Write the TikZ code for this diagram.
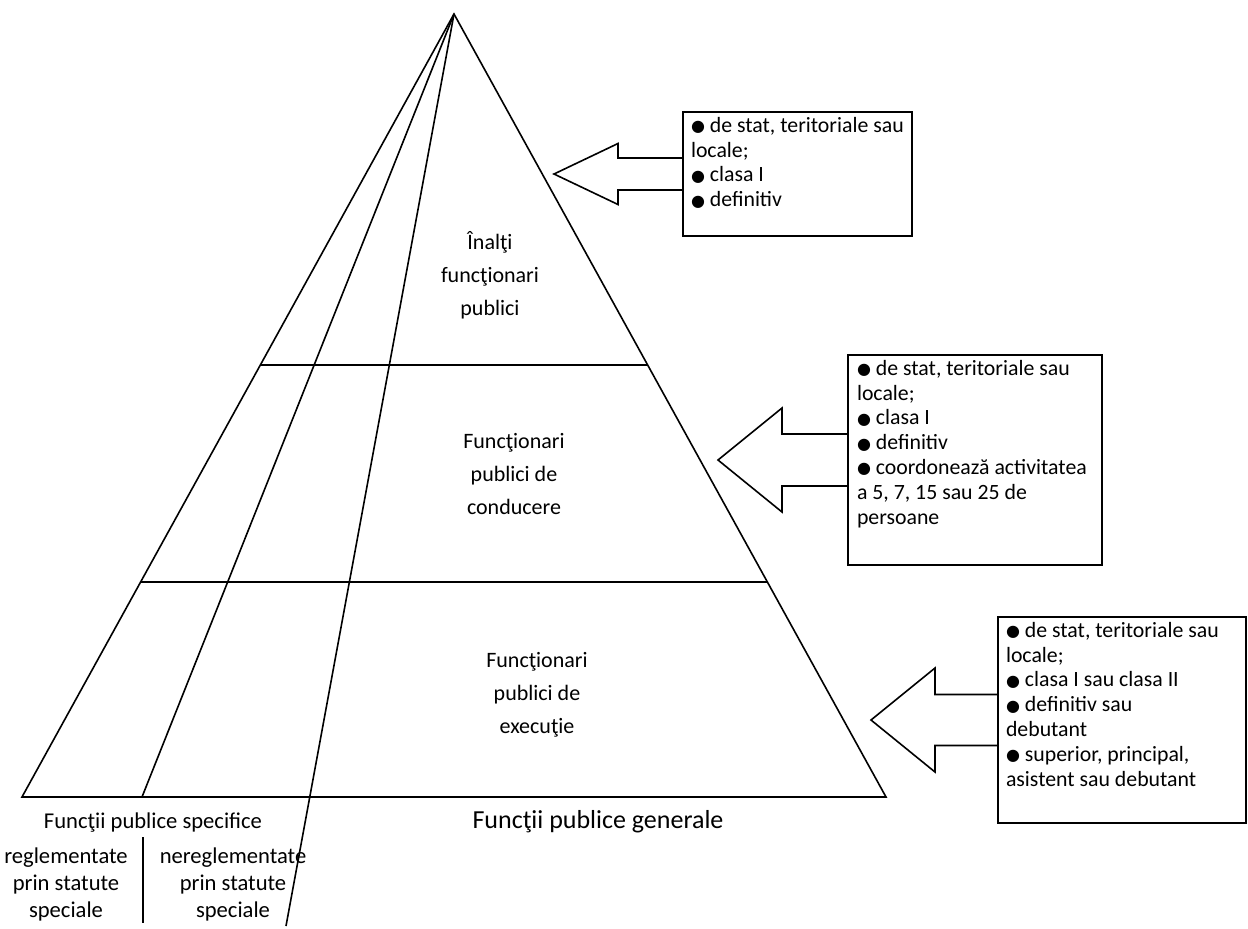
\documentclass[tikz,border=0pt]{standalone}
\usepackage{fontspec}
\setmainfont{Carlito}
\newfontfamily\symfont{DejaVu Sans}
\usetikzlibrary{calc}
% small filled bullet used in the lists
\newcommand{\bul}{\raisebox{0.4pt}{\symfont\fontsize{8}{8}\selectfont ●}}
\begin{document}
\begin{tikzpicture}[x=0.5pt,y=-0.5pt,
  line width=0.8pt, line join=miter,
  every node/.style={inner sep=0pt, outer sep=0pt},
  lbl/.style={align=center, font=\fontsize{11}{16.5}\selectfont},
  lowlbl/.style={align=center, font=\fontsize{11.3}{13.5}\selectfont},
  biglbl/.style={font=\fontsize{13}{15}\selectfont},
  infobox/.style={draw, anchor=north west},
  infotext/.style={anchor=north west, align=left, font=\fontsize{10.9}{12.45}\selectfont}
]
\useasboundingbox (0,0) rectangle (1248,928);

% pyramid outline
\coordinate (apex) at (454,14);
\coordinate (bl) at (22,797);
\coordinate (br) at (886,797);
\draw (bl) -- (apex) -- (br) -- cycle;

% level separators
\draw ($(apex)!0.44828!(bl)$) -- ($(apex)!0.44828!(br)$);
\draw ($(apex)!0.72542!(bl)$) -- ($(apex)!0.72542!(br)$);

% sector lines from the apex
\coordinate (s1) at (142,797);
\coordinate (s2) at (286,926);
\draw (apex) -- (s1);
\draw (apex) -- (s2);

% level labels
\node[lbl] (lvl1) at (490,275) {Înalţi\\funcţionari\\publici};
\node[lbl] (lvl2) at (514,474) {Funcţionari\\publici de\\conducere};
\node[lbl] (lvl3) at (537,695) {Funcţionari\\publici de\\execuţie};

% labels under the base
\node[lowlbl] (spec) at (153,823) {Funcţii publice specifice};
\node[lowlbl] (regl) at (66,884) {reglementate\\prin statute\\speciale};
\node[lowlbl] (nregl) at (233,884) {nereglementate\\prin statute\\speciale};
\coordinate (sepT) at (143,837);
\coordinate (sepB) at (143,923);
\draw (sepT) -- (sepB);
\node[biglbl] (gen) at (598,822) {Funcţii publice generale};

% information boxes
\node[infobox, minimum width=114.5pt, minimum height=62pt] (b1) at (683,112) {};
\node[infobox, minimum width=127pt, minimum height=105pt] (b2) at (848,355) {};
\node[infobox, minimum width=124pt, minimum height=103pt] (b3) at (998,617) {};

\node[infotext] (t1) at ([shift={(8,5)}]b1.north west)
  {\bul{} de stat, teritoriale sau\\locale;\\\bul{} clasa I\\\bul{} definitiv};
\node[infotext] (t2) at ([shift={(9,5)}]b2.north west)
  {\bul{} de stat, teritoriale sau\\locale;\\\bul{} clasa I\\\bul{} definitiv\\\bul{} coordonează activitatea\\a 5, 7, 15 sau 25 de\\persoane};
\node[infotext] (t3) at ([shift={(8,5)}]b3.north west)
  {\bul{} de stat, teritoriale sau\\locale;\\\bul{} clasa I sau clasa II\\\bul{} definitiv sau\\debutant\\\bul{} superior, principal,\\asistent sau debutant};

% block arrows pointing from the boxes to the pyramid
\draw ([shift={(0,-16)}]b1.west) -- ++(-65,0) -- ++(0,-14.5) -- ++(-64,30.5)
  -- ++(64,30.5) -- ++(0,-14.5) -- ++(65,0);
\draw ([shift={(0,-26)}]b2.west) -- ++(-66,0) -- ++(0,-26) -- ++(-64,52)
  -- ++(64,52) -- ++(0,-26) -- ++(66,0);
\draw ([shift={(0,-25.5)}]b3.west) -- ++(-63,0) -- ++(0,-26.5) -- ++(-64,52)
  -- ++(64,52) -- ++(0,-26.5) -- ++(63,0);
\end{tikzpicture}
\end{document}
